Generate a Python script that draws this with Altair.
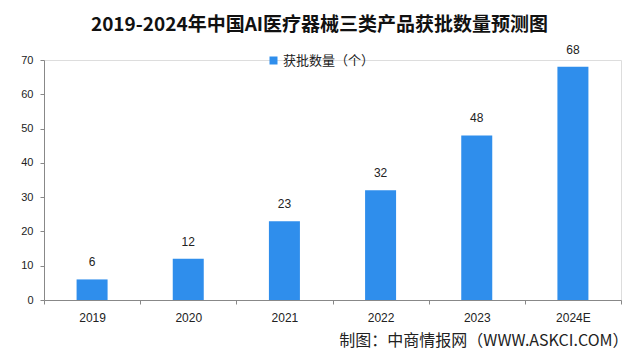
import altair as alt
import pandas as pd

years = ["2019", "2020", "2021", "2022", "2023", "2024E"]
counts = [6, 12, 23, 32, 48, 68]
series_name = "获批数量（个）"
title_text = "2019-2024年中国AI医疗器械三类产品获批数量预测图"
footer_text = "制图：中商情报网（WWW.ASKCI.COM）"

df = pd.DataFrame({"year": years, "count": counts, "series": [series_name] * len(years)})

BLUE = "#2f8eec"

base = alt.Chart(df).encode(
    x=alt.X(
        "year:N",
        sort=years,
        scale=alt.Scale(paddingInner=0, paddingOuter=0),
        axis=alt.Axis(
            title=footer_text,
            titleFont="Noto Sans CJK SC",
            titleFontSize=16,
            titleFontWeight="normal",
            titleColor="#222222",
            titleAlign="right",
            titleBaseline="middle",
            titleX=584,
            titleY=40,
            labelAngle=0,
            labelFont="Liberation Sans",
            labelFontSize=12,
            labelColor="#222222",
            labelPadding=8,
            tickBand="extent",
            tickSize=4,
            tickColor="#888888",
            domainColor="#888888",
        ),
    ),
    y=alt.Y(
        "count:Q",
        scale=alt.Scale(domain=[0, 70]),
        axis=alt.Axis(
            title=None,
            values=[0, 10, 20, 30, 40, 50, 60, 70],
            grid=False,
            labelFont="Liberation Sans",
            labelFontSize=11,
            labelColor="#222222",
            labelPadding=7,
            tickSize=4,
            tickColor="#888888",
            domainColor="#888888",
        ),
    ),
)

bars = base.mark_bar(size=31).encode(
    color=alt.Color(
        "series:N",
        scale=alt.Scale(range=[BLUE]),
        legend=alt.Legend(
            title=None,
            orient="none",
            legendX=223,
            legendY=-6,
            symbolType="square",
            symbolSize=64,
            symbolStrokeWidth=0,
            labelFont="Noto Sans CJK SC",
            labelFontSize=13,
            labelColor="#222222",
            labelOffset=3,
            padding=0,
        ),
    )
)

labels = base.mark_text(
    dy=-17, baseline="middle", font="Liberation Sans", fontSize=12, color="#222222"
).encode(text="count:Q")

chart = (
    alt.layer(bars, labels)
    .properties(
        width=577,
        height=240,
        title=alt.TitleParams(
            text=title_text,
            font="Noto Sans CJK SC",
            fontSize=19,
            fontWeight="bold",
            color="#111111",
            anchor="middle",
            frame="group",
            offset=9,
            dx=-13,
        ),
        padding={"left": 36, "top": 52, "right": 10, "bottom": 55},
        autosize=alt.AutoSizeParams(type="none"),
    )
    .configure_view(stroke=None)
    .configure(background="white")
)

chart.save("out.html", embed_options={"renderer": "svg", "actions": False})
